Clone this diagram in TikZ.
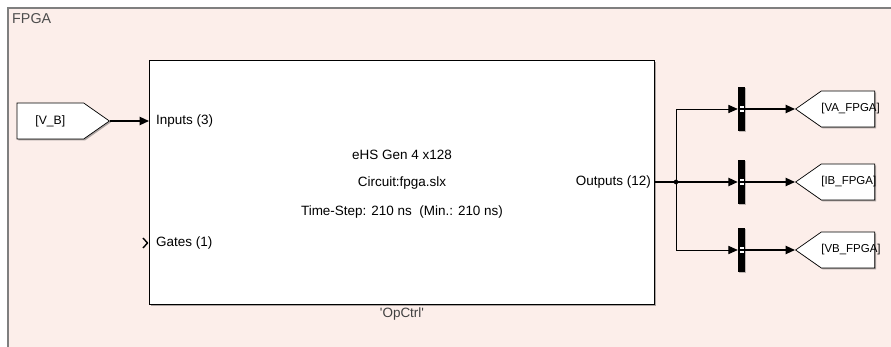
\documentclass[tikz,border=0pt]{standalone}
\usepackage{fontspec}
\setmainfont{Liberation Sans}
\usetikzlibrary{shapes.symbols,arrows.meta,shadows}
\definecolor{areafill}{HTML}{FCEEEA}
\definecolor{arealine}{HTML}{7F7F7F}
\tikzset{
	blk/.style={
		rectangle,
		draw,
		fill=white,
		line width=0.8pt,
		drop shadow={shadow xshift=1.4pt,shadow yshift=-1.4pt,opacity=0.45,fill=black!70}},
	gototag/.style={
		signal,
		draw,
		fill=white,
		line width=0.6pt,
		signal pointer angle=70,
		inner xsep=0pt,
		text width=2.0cm,
		align=center,
		minimum height=1.08cm,
		font=\fontsize{10.4}{11}\selectfont,
		drop shadow={shadow xshift=1.2pt,shadow yshift=-1.2pt,opacity=0.45,fill=black!70}},
	gotoout/.style={
		gototag,
		signal to=west,
		text width=1.6cm,
		font=\fontsize{9.8}{11}\selectfont},
	demuxbar/.style={
		rectangle,
		fill=black,
		minimum width=0.21cm,
		minimum height=1.32cm,
		inner sep=0pt,
		drop shadow={shadow xshift=1pt,shadow yshift=-1pt,opacity=0.35,fill=black!70},
		path picture={
			\fill[white] ([shift={(-1.2pt,1.2pt)}]path picture bounding box.center) rectangle ++(3pt,1.7pt);
			\fill[white] ([shift={(-1.2pt,-1.2pt)}]path picture bounding box.center) rectangle ++(3pt,-1.7pt);}},
	sig/.style={line width=1.4pt,-{Triangle[length=8pt,width=7pt]}},
	branch/.style={line width=0.6pt,-{Triangle[length=8pt,width=7pt]}},
	lbl/.style={font=\fontsize{11.5}{13}\selectfont}
}

\begin{document}
\begin{tikzpicture}[x=0.03cm,y=-0.03cm]
	\clip (0,0) rectangle (891,347);
	% subsystem area
	\draw[fill=areafill,draw=arealine,line width=1.3pt] (8,8) rectangle (920,380);
	\node[anchor=north west,text=black!70,font=\fontsize{12.2}{13}\selectfont,inner sep=0pt] (area) at (12,13) {FPGA};

	\node[blk,minimum width=15.15cm,minimum height=7.32cm] (opctrl) at (402,182) {};
	\node[lbl] (name1) at (402,155) {eHS Gen 4 x128};
	\node[lbl] (name2) at (402,183) {Circuit:fpga.slx};
	\node[lbl] (name3) at (402,212) {Time-Step: 210 ns\ \ (Min.: 210 ns)};
	\node[lbl,text=black!75] (title) at (402,314) {\textquotesingle OpCtrl\textquotesingle};
	\node[lbl,anchor=west] (inp) at (152,121) {Inputs (3)};
	\node[lbl,anchor=west] (gates) at (152,243) {Gates (1)};
	\node[lbl,anchor=east] (outp) at (655,182) {Outputs (12)};
	\draw[line width=1.2pt] (143,238) -- (147.5,243) -- (143,248);

	\node[gototag,anchor=east] (vb) at (110,121) {[V\_B]};

	\node[demuxbar] (dmxa) at (741.5,109) {};
	\node[demuxbar] (dmxb) at (741.5,182) {};
	\node[demuxbar] (dmxc) at (741.5,250) {};

	\node[gotoout,anchor=west] (va) at (795,109) {[VA\_FPGA]};
	\node[gotoout,anchor=west] (ib) at (795,182) {[IB\_FPGA]};
	\node[gotoout,anchor=west] (vbf) at (795,250) {[VB\_FPGA]};

	\coordinate (split) at (676,182);

	\draw[sig] (vb.east) -- (opctrl.west |- vb.east);
	\draw[sig] (opctrl.east |- split) -- (dmxb.west);
	\draw[branch] (split) |- (dmxa.west);
	\draw[branch] (split) |- (dmxc.west);
	\fill (split) circle (2pt);

	\draw[sig] (dmxa.east) -- (va.west);
	\draw[sig] (dmxb.east) -- (ib.west);
	\draw[sig] (dmxc.east) -- (vbf.west);
\end{tikzpicture}
\end{document}
